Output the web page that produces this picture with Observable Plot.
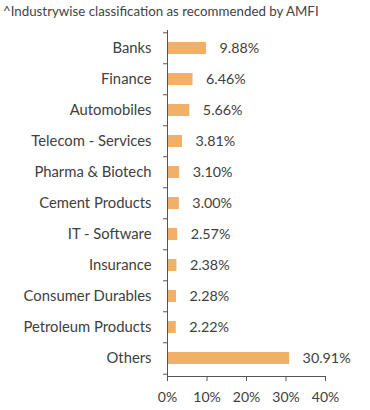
<!DOCTYPE html>
<html><head><meta charset="utf-8">
<script src="https://cdn.jsdelivr.net/npm/d3@7"></script>
<script src="https://cdn.jsdelivr.net/npm/@observablehq/plot@0.6"></script>
<style>
body{margin:0;background:#fff;font-family:Lato,"Open Sans",sans-serif;color:#444;}
#title{height:22px;line-height:22px;padding-left:3px;font-size:13.3px;white-space:nowrap;}
svg{display:block;}
</style></head>
<body>
<div id="title">^Industrywise classification as recommended by AMFI</div>
<div id="chart"></div>
<script>
const categories = ["Banks","Finance","Automobiles","Telecom - Services","Pharma & Biotech","Cement Products","IT - Software","Insurance","Consumer Durables","Petroleum Products","Others"];
const values = [9.88,6.46,5.66,3.81,3.10,3.00,2.57,2.38,2.28,2.22,30.91];
const xTicks = [0,10,20,30,40];

const data = categories.map((c,i)=>({cat:c, v:values[i]}));
const W=370, H=388, mT=8, mB=34, mL=167, mR=45;
const step=(H-mT-mB)/categories.length;
const ink="#404040", axisCol="#555";

const chart = Plot.plot({
  width:W, height:H, marginTop:mT, marginBottom:mB, marginLeft:mL, marginRight:mR,
  style:{fontFamily:"Lato, sans-serif", fontSize:"12px", color:ink, background:"#fff"},
  x:{domain:[0,40], label:null},
  y:{domain:categories, paddingInner:0.6, paddingOuter:0.3, label:null},
  marks:[
    Plot.axisX({ticks:xTicks, tickFormat:d=>d+"%", tickSize:5, tickPadding:11, fontSize:14, label:null, stroke:axisCol}),
    Plot.axisY({tickSize:0, tickPadding:16, fontSize:14.8, label:null}),
    Plot.barX(data,{x:"v", y:"cat", fill:"#F1B068"}),
    Plot.text(data,{x:"v", y:"cat", text:d=>d.v.toFixed(2)+"%", textAnchor:"start", dx:13, fill:ink, fontSize:14.3}),
    Plot.ruleX([0],{stroke:axisCol}),
    Plot.frame({anchor:"bottom", stroke:axisCol}),
    Plot.ruleY(categories,{y:d=>d, x1:-1, x2:0, dy:-step/2, stroke:axisCol}),
    Plot.ruleY([categories[categories.length-1]],{y:d=>d, x1:-1, x2:0, dy:step/2, stroke:axisCol})
  ]
});
document.getElementById("chart").appendChild(chart);
</script>
</body></html>
